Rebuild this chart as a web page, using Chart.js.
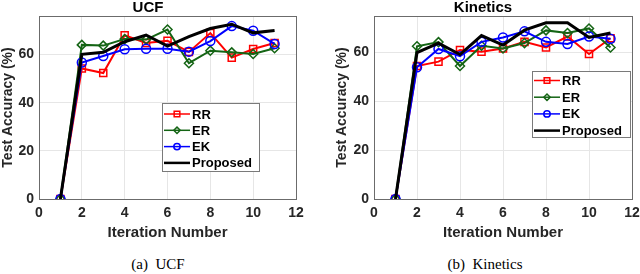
<!DOCTYPE html>
<html>
<head>
<meta charset="utf-8">
<script src="https://cdn.jsdelivr.net/npm/chart.js@4.4.1/dist/chart.umd.min.js"></script>
<style>
  body { margin: 0; background: #fff; }
  #wrap { position: relative; width: 640px; height: 274px; overflow: hidden; }
  .panel { position: absolute; top: 0; width: 320px; height: 274px; }
  .panel canvas { position: absolute; left: 0; top: 0; }
  .caption { position: absolute; top: 256px; width: 120px; text-align: center; font: 15px "Liberation Serif", serif; color: #000; white-space: pre; }
</style>
</head>
<body>
<div id="wrap">
  <div class="panel" style="left:0"><canvas id="ucf" width="320" height="245"></canvas><div class="caption" style="left:98px">(a)  UCF</div></div>
  <div class="panel" style="left:320px"><canvas id="kin" width="320" height="245"></canvas><div class="caption" style="left:105px">(b)  Kinetics</div></div>
</div>
<script>
// data
const iterations = [1, 2, 3, 4, 5, 6, 7, 8, 9, 10, 11];
const seriesNames = ['RR', 'ER', 'EK', 'Proposed'];

const ucfRR   = [0, 54.2, 52.3, 68.0, 64.8, 65.7, 61.1, 68.9, 58.7, 62.3, 64.8];
const ucfER   = [0, 64.0, 63.7, 66.4, 66.2, 70.4, 56.4, 61.6, 60.9, 60.2, 62.6];
const ucfEK   = [0, 56.7, 59.4, 62.2, 62.4, 62.4, 61.2, 65.6, 71.8, 69.9, 64.4];
const ucfProp = [0, 60.1, 60.9, 65.3, 68.1, 63.5, 67.4, 70.8, 72.6, 69.0, 70.0];

const kinRR   = [0, 54.5, 56.3, 61.1, 60.4, 61.7, 64.4, 62.1, 66.6, 59.4, 65.9];
const kinER   = [0, 62.6, 64.3, 54.5, 62.8, 61.7, 63.9, 69.1, 68.0, 69.9, 62.1];
const kinEK   = [0, 54.0, 61.5, 58.5, 64.4, 66.2, 68.7, 64.4, 63.5, 66.6, 65.7];
const kinProp = [0, 60.0, 63.9, 59.2, 67.0, 63.1, 69.2, 72.2, 72.2, 66.2, 68.0];

const xTicks = [0, 2, 4, 6, 8, 10, 12];
const yTicks = [0, 20, 40, 60];

// styles
const colors = ['#ff0000', '#146414', '#0000ff', '#000000'];
const markers = ['rect', 'rectRot', 'circle', false];
const axisFont = { family: '"Liberation Sans", Arial, sans-serif', weight: 'bold' };
const textColor = '#262626';

const toPoints = (ys) => ys.map((y, i) => ({ x: iterations[i], y }));

// box + grid border and in-plot legend
const frameLegend = {
    id: 'frameLegend',
    afterDatasetsDraw(chart, args, opts) {
        const { ctx, chartArea: a } = chart;
        ctx.save();
        ctx.strokeStyle = '#6b6b6b';
        ctx.lineWidth = 1;
        ctx.strokeRect(Math.round(a.left) + 0.5, Math.round(a.top) + 0.5, Math.round(a.right - a.left), Math.round(a.bottom - a.top));

        const b = opts.box;
        ctx.fillStyle = '#fff';
        ctx.fillRect(b.x, b.y, b.w, b.h);
        ctx.strokeStyle = '#7a7a7a';
        ctx.strokeRect(b.x + 0.5, b.y + 0.5, b.w, b.h);
        ctx.font = 'bold 13px "Liberation Sans", Arial, sans-serif';
        ctx.textBaseline = 'middle';
        chart.data.datasets.forEach((ds, i) => {
            const y = b.y + b.first + i * b.step;
            const x0 = b.x + 2, x1 = b.x + 28;
            ctx.strokeStyle = ds.borderColor;
            ctx.lineWidth = i === 3 ? 2.5 : 1.5;
            ctx.beginPath(); ctx.moveTo(x0, y); ctx.lineTo(x1, y); ctx.stroke();
            if (ds.pointStyle) {
                ctx.fillStyle = 'rgba(255,255,255,0)';
                Chart.helpers.drawPoint(ctx, { pointStyle: ds.pointStyle, radius: ds.pointStyle === 'rect' ? 4 : 3.2, rotation: 0, borderWidth: 1.5 }, (x0 + x1) / 2, y);
            }
            ctx.fillStyle = '#000';
            ctx.fillText(ds.label, x1 + 2, y + 1);
        });
        ctx.restore();
    }
};

function makeChart(id, title, series, yMax, pad, yWidth, box) {
    const datasets = series.map((ys, i) => ({
        label: seriesNames[i],
        data: toPoints(ys),
        borderColor: colors[i],
        backgroundColor: 'rgba(255,255,255,0)',
        borderWidth: i === 3 ? 3 : 2,
        pointStyle: markers[i],
        pointRadius: markers[i] ? (markers[i] === 'rect' ? 5 : 4.5) : 0,
        pointBorderWidth: 1.5,
        pointBackgroundColor: 'rgba(255,255,255,0)',
        tension: 0,
        order: 3 - i
    }));

    return new Chart(document.getElementById(id), {
        type: 'line',
        data: { datasets },
        options: {
            responsive: false,
            animation: false,
            devicePixelRatio: 1,
            layout: { padding: pad },
            plugins: {
                legend: { display: false },
                tooltip: { enabled: false },
                title: {
                    display: true, text: title, color: '#000',
                    font: { ...axisFont, size: 15, lineHeight: 1 },
                    padding: { top: 0, bottom: 1 }
                },
                frameLegend: { box }
            },
            scales: {
                x: {
                    type: 'linear', min: 0, max: 12,
                    afterBuildTicks: (s) => { s.ticks = xTicks.map(v => ({ value: v })); },
                    afterFit: (s) => { s.height = 46; s.paddingLeft = 0; s.paddingRight = 0; },
                    grid: { color: '#e6e6e6', drawTicks: false },
                    border: { display: false },
                    ticks: { color: textColor, font: { ...axisFont, size: 14 }, padding: 6, maxRotation: 0 },
                    title: { display: true, text: 'Iteration Number', color: textColor, font: { ...axisFont, size: 15, lineHeight: 1.2 }, padding: { top: 0, bottom: 3 } }
                },
                y: {
                    min: 0, max: yMax,
                    afterBuildTicks: (s) => { s.ticks = yTicks.map(v => ({ value: v })); },
                    afterFit: (s) => { s.width = yWidth; s.paddingTop = 0; s.paddingBottom = 0; },
                    grid: { color: '#e6e6e6', drawTicks: false },
                    border: { display: false },
                    ticks: { color: textColor, font: { ...axisFont, size: 14 }, padding: 5 },
                    title: { display: true, text: 'Test Accuracy (%)', color: textColor, font: { ...axisFont, size: 14, lineHeight: 1.2 }, padding: { top: 0, bottom: 0 } }
                }
            }
        },
        plugins: [frameLegend]
    });
}

makeChart('ucf', 'UCF', [ucfRR, ucfER, ucfEK, ucfProp], 76,
    { left: 0, right: 24, top: 0, bottom: 0 }, 39,
    { x: 162, y: 103, w: 97, h: 68, first: 11, step: 16.3 });

makeChart('kin', 'Kinetics', [kinRR, kinER, kinEK, kinProp], 75,
    { left: 14, right: 8, top: 0, bottom: 0 }, 40,
    { x: 212, y: 71, w: 98, h: 66, first: 9.5, step: 16.7 });
</script>
</body>
</html>
